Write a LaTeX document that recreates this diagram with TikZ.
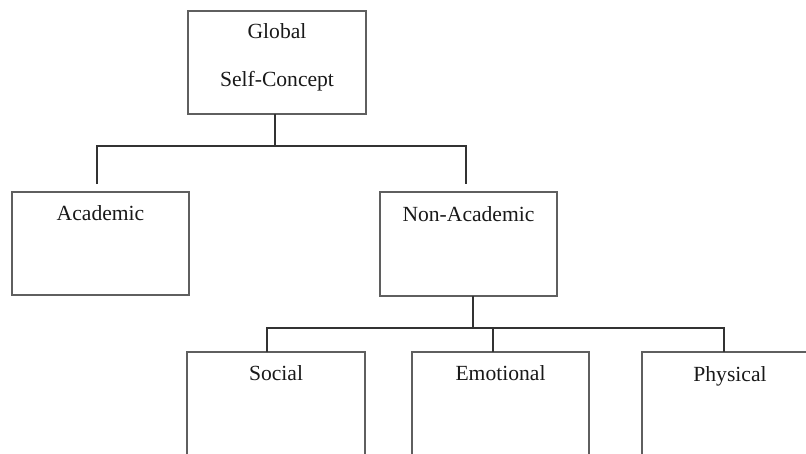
\documentclass[tikz,border=0pt]{standalone}
\usepackage{fontspec}
\setmainfont{Liberation Serif}
\usetikzlibrary{calc}
\definecolor{boxc}{RGB}{95,95,95}
\definecolor{linec}{RGB}{50,50,50}
\definecolor{txtc}{RGB}{25,25,25}
\begin{document}
\begin{tikzpicture}[x=1pt,y=-1pt,
  box/.style={draw=boxc,line width=1.3pt,rectangle,inner sep=0pt,outer sep=0pt},
  lbl/.style={anchor=base,inner sep=0pt,text=txtc,font=\fontsize{21.6}{26}\selectfont},
  conn/.style={draw=linec,line width=1.2pt}]
\useasboundingbox (0,0) rectangle (806,453);
% boxes
\node[box,minimum width=178pt,minimum height=103pt] (G) at (277,62.5) {};
\node[box,minimum width=177pt,minimum height=103pt] (A) at (100.5,243.5) {};
\node[box,minimum width=177pt,minimum height=104pt] (N) at (468.5,244) {};
\node[box,minimum width=178pt,minimum height=118pt] (S) at (276,411) {};
\node[box,minimum width=177pt,minimum height=118pt] (E) at (500.5,411) {};
\node[box,minimum width=176pt,minimum height=118pt] (P) at (730,411) {};
% texts
\node[lbl] (Gt1) at (277,38) {Global};
\node[lbl] (Gt2) at (277,86) {Self-Concept};
\node[lbl] (At) at (100.5,220) {Academic};
\node[lbl] (Nt) at (468.5,221) {Non-Academic};
\node[lbl] (St) at (276,380) {Social};
\node[lbl] (Et) at (500.5,380) {Emotional};
\node[lbl] (Pt) at (730,381) {Physical};
% top connectors
\coordinate (gtop) at ($(G.south)+(-2,0)$);
\coordinate (bus1) at (275,146);
\coordinate (aL) at (97,146);
\coordinate (nR) at (466,146);
\coordinate (aEnd) at (97,184);
\coordinate (nEnd) at (466,184);
\draw[conn] (gtop) -- (bus1);
\draw[conn] (aEnd) -- (aL) -- (nR) -- (nEnd);
% bottom connectors
\coordinate (ntop) at ($(N.south)+(4.5,0)$);
\coordinate (bus2) at (473,328);
\coordinate (sL) at (267,328);
\coordinate (pR) at (724,328);
\coordinate (eB) at (493,328);
\draw[conn] (ntop) -- (bus2);
\draw[conn] ($(S.north)+(-9,0)$) -- (sL) -- (pR) -- ($(P.north)+(-6,0)$);
\draw[conn] (eB) -- ($(E.north)+(-7.5,0)$);
\end{tikzpicture}
\end{document}
